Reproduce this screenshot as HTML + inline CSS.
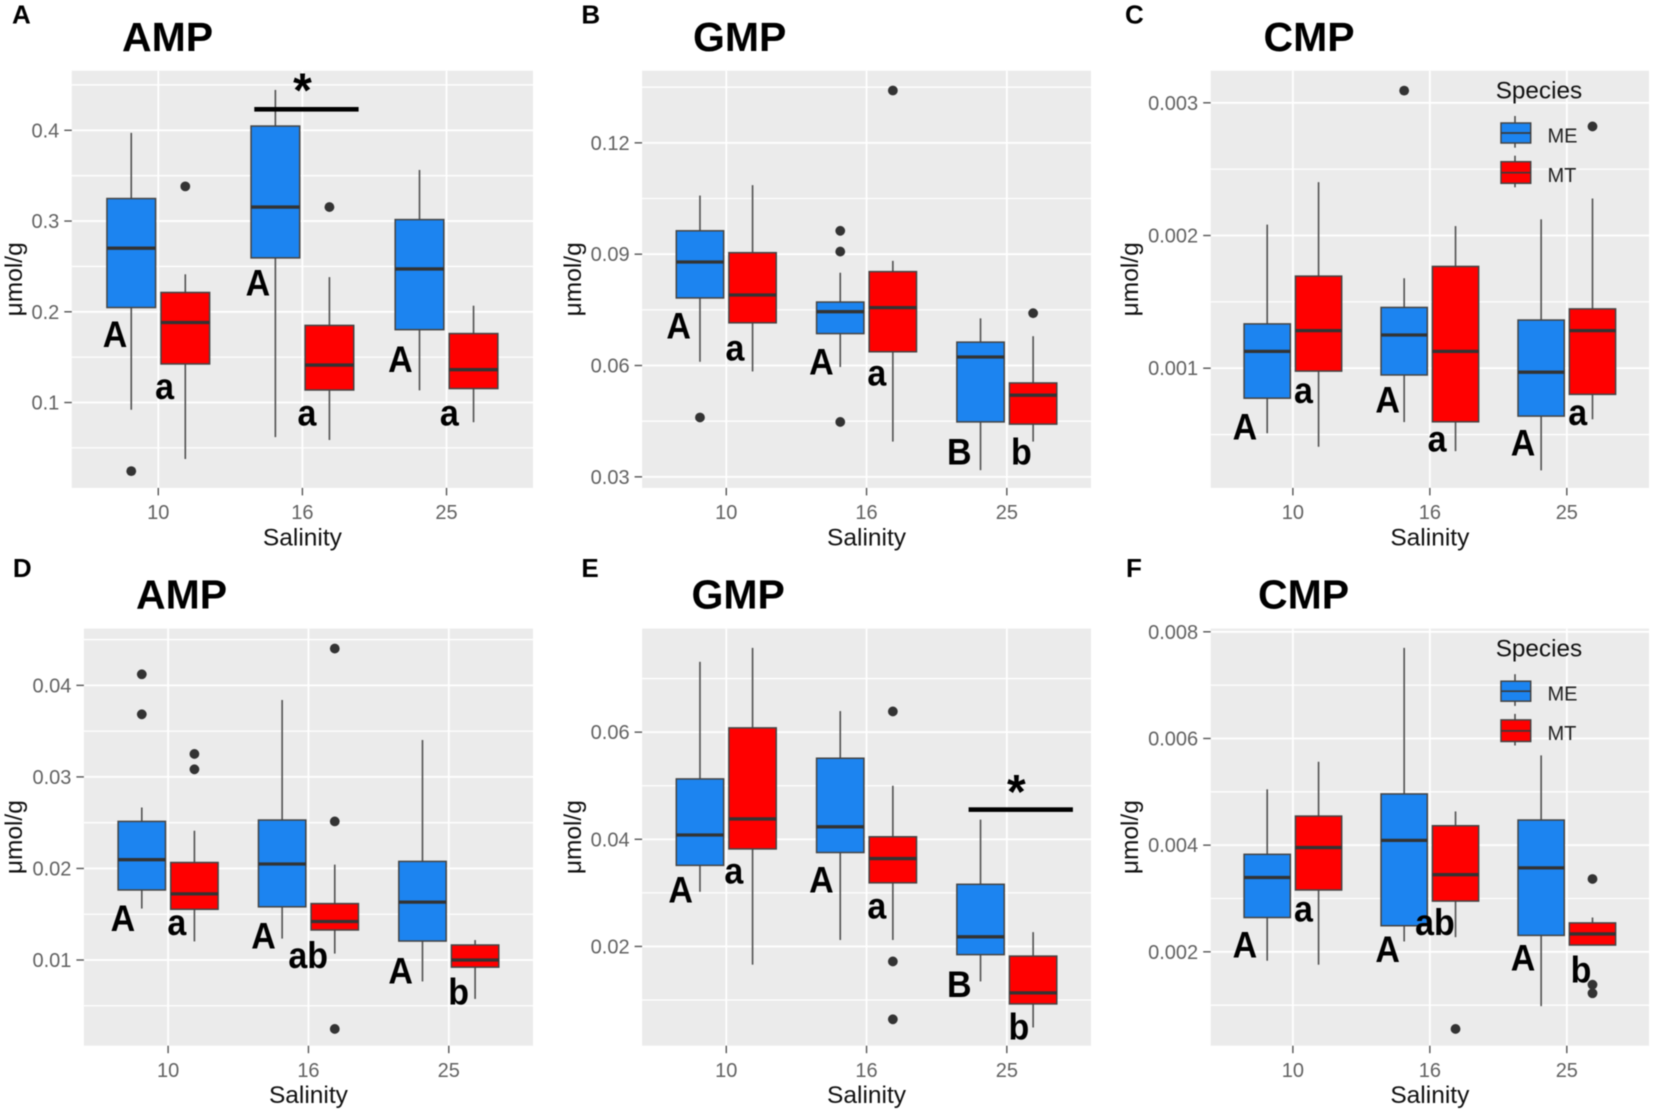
<!DOCTYPE html>
<html lang="en">
<head>
<meta charset="utf-8">
<title>Nucleotide monophosphates by salinity and species</title>
<style>
  html, body { margin: 0; padding: 0; background: #fff; }
  svg { display: block; filter: blur(0.5px); font-family: "Liberation Sans", Arial, sans-serif; }
  .panel-letter { font-size: 26px; font-weight: bold; fill: #000; }
  .title { font-size: 41px; font-weight: bold; fill: #000; }
  .sig { font-size: 34px; font-weight: bold; fill: #000; text-anchor: middle; transform-box: fill-box; transform-origin: 50% 81%; transform: scaleY(1.1); }
  .star { font-size: 48px; font-weight: bold; fill: #000; text-anchor: middle; }
  .ytick { font-size: 20px; fill: #626262; text-anchor: end; }
  .xtick { font-size: 20px; fill: #626262; text-anchor: middle; }
  .axis-title { font-size: 24.5px; fill: #111; text-anchor: middle; }
  .legend-title { font-size: 24.3px; fill: #111; }
  .legend-label { font-size: 20px; fill: #222; }
</style>
</head>
<body>
<svg xmlns="http://www.w3.org/2000/svg" width="1654" height="1115" viewBox="0 0 1654 1115">

  <text class="panel-letter" x="12" y="23.6">A</text>
  <text class="panel-letter" x="581.4" y="23.6">B</text>
  <text class="panel-letter" x="1125" y="23.6">C</text>
  <text class="panel-letter" x="12.9" y="577">D</text>
  <text class="panel-letter" x="581.4" y="577">E</text>
  <text class="panel-letter" x="1126" y="577">F</text>

  <text class="title" x="122" y="51">AMP</text>
  <text class="title" x="693" y="51">GMP</text>
  <text class="title" x="1263.5" y="51">CMP</text>
  <text class="title" x="136" y="608.6">AMP</text>
  <text class="title" x="691.5" y="608.6">GMP</text>
  <text class="title" x="1258" y="608.6">CMP</text>

  <g id="marks-a"></g>
  <g id="marks-b"></g>
  <g id="marks-c"></g>
  <g id="marks-d"></g>
  <g id="marks-e"></g>
  <g id="marks-f"></g>

  <g>
    <text class="sig" x="115" y="347">A</text>
    <text class="sig" x="164.6" y="399">a</text>
    <text class="sig" x="257.9" y="295.7">A</text>
    <text class="sig" x="307" y="425.7">a</text>
    <text class="sig" x="400.4" y="372">A</text>
    <text class="sig" x="449.3" y="425.7">a</text>
    <rect x="254.3" y="107" width="104.3" height="4.6" fill="#000"></rect>
    <text class="star" x="302.5" y="106.4">*</text>
  </g>
  <g>
    <text class="sig" x="678.6" y="338.6">A</text>
    <text class="sig" x="735" y="360.7">a</text>
    <text class="sig" x="821.4" y="374.3">A</text>
    <text class="sig" x="876.8" y="385.7">a</text>
    <text class="sig" x="959.3" y="464.3">B</text>
    <text class="sig" x="1021.4" y="464.3">b</text>
  </g>
  <g>
    <text class="sig" x="1244.9" y="439.3">A</text>
    <text class="sig" x="1303.5" y="402.9">a</text>
    <text class="sig" x="1387.6" y="412.5">A</text>
    <text class="sig" x="1437.1" y="451.4">a</text>
    <text class="sig" x="1523" y="455.4">A</text>
    <text class="sig" x="1577.7" y="425">a</text>
  </g>
  <g>
    <text class="sig" x="122.9" y="931">A</text>
    <text class="sig" x="176.8" y="935">a</text>
    <text class="sig" x="263.6" y="948.6">A</text>
    <text class="sig" x="308.2" y="967.9">ab</text>
    <text class="sig" x="400.7" y="983.6">A</text>
    <text class="sig" x="458.6" y="1004.3">b</text>
  </g>
  <g>
    <text class="sig" x="680.7" y="902.5">A</text>
    <text class="sig" x="733.9" y="883.6">a</text>
    <text class="sig" x="821.4" y="892.5">A</text>
    <text class="sig" x="876.8" y="918.6">a</text>
    <text class="sig" x="959.3" y="997">B</text>
    <text class="sig" x="1018.9" y="1039.6">b</text>
    <rect x="968.6" y="807.3" width="104.3" height="4.6" fill="#000"></rect>
    <text class="star" x="1016.4" y="808">*</text>
  </g>
  <g>
    <text class="sig" x="1244.9" y="957.5">A</text>
    <text class="sig" x="1303.5" y="921.4">a</text>
    <text class="sig" x="1387.6" y="962">A</text>
    <text class="sig" x="1435" y="935">ab</text>
    <text class="sig" x="1523" y="970.4">A</text>
    <text class="sig" x="1581" y="982.5">b</text>
  </g>

  <g>
    <text class="legend-title" x="1495.7" y="98.3">Species</text>
    <g>
      <line x1="1515" x2="1515" y1="116" y2="147.7" stroke="#444" stroke-width="1.5"></line>
      <rect x="1501" y="123" width="29.7" height="20" fill="#1C84F0" stroke="#444" stroke-width="1.5"></rect>
      <line x1="1501" x2="1530.7" y1="133" y2="133" stroke="#3a3a3a" stroke-width="1.7"></line>
      <text class="legend-label" x="1547.5" y="142.3">ME</text>
    </g>
    <g>
      <line x1="1515" x2="1515" y1="155.7" y2="187.3" stroke="#444" stroke-width="1.5"></line>
      <rect x="1501" y="161.7" width="29.7" height="21.6" fill="#FF0000" stroke="#444" stroke-width="1.5"></rect>
      <line x1="1501" x2="1530.7" y1="172.7" y2="172.7" stroke="#3a3a3a" stroke-width="1.7"></line>
      <text class="legend-label" x="1547.5" y="182">MT</text>
    </g>
  </g>
  <g transform="translate(0,558.2)">
    <text class="legend-title" x="1495.7" y="98.3">Species</text>
    <g>
      <line x1="1515" x2="1515" y1="116" y2="147.7" stroke="#444" stroke-width="1.5"></line>
      <rect x="1501" y="123" width="29.7" height="20" fill="#1C84F0" stroke="#444" stroke-width="1.5"></rect>
      <line x1="1501" x2="1530.7" y1="133" y2="133" stroke="#3a3a3a" stroke-width="1.7"></line>
      <text class="legend-label" x="1547.5" y="142.3">ME</text>
    </g>
    <g>
      <line x1="1515" x2="1515" y1="155.7" y2="187.3" stroke="#444" stroke-width="1.5"></line>
      <rect x="1501" y="161.7" width="29.7" height="21.6" fill="#FF0000" stroke="#444" stroke-width="1.5"></rect>
      <line x1="1501" x2="1530.7" y1="172.7" y2="172.7" stroke="#3a3a3a" stroke-width="1.7"></line>
      <text class="legend-label" x="1547.5" y="182">MT</text>
    </g>
  </g>
</svg>

<script>
// Shared categories and series
const categories = ['10', '16', '25'];
const species = ['ME', 'MT'];

// Each box is [lowWhisker, q1, median, q3, highWhisker], in umol/g, one per salinity.
const ticksA = ['0.1', '0.2', '0.3', '0.4'];
const boxesA_ME = [[0.0921, 0.2047, 0.2701, 0.3248, 0.3972], [0.0618, 0.2594, 0.3154, 0.4047, 0.4445], [0.1134, 0.1803, 0.2472, 0.3016, 0.3563]];
const boxesA_MT = [[0.0378, 0.1425, 0.1882, 0.2213, 0.2413], [0.0587, 0.1138, 0.1413, 0.1850, 0.2382], [0.0783, 0.1154, 0.1362, 0.1760, 0.2067]];
const outliersA_ME = [[0.0244], [], []];
const outliersA_MT = [[0.3382], [0.3154], []];

const ticksB = ['0.03', '0.06', '0.09', '0.12'];
const boxesB_ME = [[0.0610, 0.0782, 0.0879, 0.0963, 0.1058], [0.0596, 0.0686, 0.0745, 0.0771, 0.0850], [0.0318, 0.0448, 0.0623, 0.0663, 0.0727]];
const boxesB_MT = [[0.0584, 0.0715, 0.0790, 0.0904, 0.1086], [0.0395, 0.0637, 0.0756, 0.0853, 0.0882], [0.0395, 0.0442, 0.0520, 0.0553, 0.0679]];
const outliersB_ME = [[0.0460], [0.0963, 0.0907, 0.0448], []];
const outliersB_MT = [[], [0.1341], [0.0741]];

const ticksC = ['0.001', '0.002', '0.003'];
const boxesC_ME = [[0.00051, 0.000774, 0.001127, 0.001334, 0.002082], [0.000594, 0.000949, 0.00125, 0.001458, 0.001678], [0.00023, 0.000639, 0.00097, 0.001363, 0.002122]];
const boxesC_MT = [[0.000408, 0.000978, 0.001283, 0.001694, 0.002402], [0.000375, 0.000596, 0.001127, 0.001767, 0.002071], [0.000615, 0.000803, 0.001283, 0.001447, 0.002279]];
const outliersC_ME = [[], [0.003092], []];
const outliersC_MT = [[], [], [0.002822]];

const ticksD = ['0.01', '0.02', '0.03', '0.04'];
const boxesD_ME = [[0.01562, 0.01765, 0.02096, 0.02514, 0.02666], [0.01234, 0.01581, 0.02049, 0.02529, 0.0384], [0.00766, 0.01207, 0.01632, 0.02077, 0.03403]];
const boxesD_MT = [[0.01203, 0.01554, 0.01722, 0.02065, 0.02412], [0.0107, 0.01328, 0.01421, 0.01616, 0.02042], [0.00575, 0.00922, 0.0100, 0.01164, 0.01218]];
const outliersD_ME = [[0.04121, 0.03684], [], []];
const outliersD_MT = [[0.03251, 0.03083], [0.04402, 0.02514, 0.00247], []];

const ticksE = ['0.02', '0.04', '0.06'];
const boxesE_ME = [[0.0302, 0.03513, 0.0408, 0.05127, 0.07313], [0.0212, 0.03753, 0.04233, 0.05513, 0.06393], [0.01347, 0.01847, 0.0218, 0.0316, 0.04367]];
const boxesE_MT = [[0.0166, 0.0382, 0.0438, 0.0608, 0.07573], [0.0212, 0.03187, 0.0364, 0.04047, 0.05], [0.00487, 0.00927, 0.01133, 0.0182, 0.02267]];
const outliersE_ME = [[], [], []];
const outliersE_MT = [[], [0.06387, 0.0172, 0.0064], []];

const ticksF = ['0.002', '0.004', '0.006', '0.008'];
const boxesF_ME = [[0.001833, 0.002643, 0.003393, 0.003828, 0.005047], [0.002194, 0.002489, 0.004089, 0.00496, 0.007699], [0.000982, 0.002308, 0.003574, 0.004471, 0.005683]];
const boxesF_MT = [[0.001759, 0.003159, 0.003955, 0.004545, 0.005563], [0.002275, 0.002951, 0.003446, 0.004364, 0.004632], [0.002127, 0.002127, 0.002335, 0.002542, 0.002643]];
const outliersF_ME = [[], [], []];
const outliersF_MT = [[], [0.000554], [0.003366, 0.001384, 0.001223]];

const SVG_NS = 'http://www.w3.org/2000/svg';
const FILLS = { ME: '#1C84F0', MT: '#FF0000' };

function make(parent, tag, attrs, text) {
  const el = document.createElementNS(SVG_NS, tag);
  for (const k in attrs) el.setAttribute(k, attrs[k]);
  if (text !== undefined) el.textContent = text;
  parent.appendChild(el);
  return el;
}

function drawPanel(cfg) {
  const root = document.getElementById('marks-' + cfg.id);
  const id = cfg.id;
  const L = cfg.left, R = cfg.right, T = cfg.top, B = cfg.bottom;

  // axis functions
  const yScale = v => B - (v - cfg.yMin) / (cfg.yMax - cfg.yMin) * (B - T);
  const band = (R - L) / (categories.length - 1 + 1.2);
  const xScale = i => L + (0.6 + i) * band;
  const dodge = s => (s === 0 ? -0.1875 : 0.1875) * band;
  const boxW = 0.3375 * band;

  const bg = make(root, 'rect', { x: L, y: T, width: R - L, height: B - T, fill: '#EBEBEB' });
  
  

  // gridlines
  const tickVals = cfg.ticks.map(parseFloat);
  const step = tickVals[1] - tickVals[0];
  for (let k = -1; k <= tickVals.length; k++) {
    const v = tickVals[0] + (k + 0.5) * step;
    if (v <= cfg.yMin || v >= cfg.yMax) continue;
    const g = make(root, 'line', { x1: L, x2: R, y1: yScale(v), y2: yScale(v), stroke: '#fff', 'stroke-width': 1.3 });
    
    
  }
  tickVals.forEach((v, i) => {
    const y = yScale(v);
    const g = make(root, 'line', { x1: L, x2: R, y1: y, y2: y, stroke: '#fff', 'stroke-width': 1.8 });
    
    
    const t = make(root, 'line', { x1: L - 7.5, x2: L, y1: y, y2: y, stroke: '#555', 'stroke-width': 1.4 });
    
    
    const lab = make(root, 'text', { class: 'ytick', x: L - 12.5, y: y + 7 }, cfg.ticks[i]);
    
    
  });
  categories.forEach((c, i) => {
    const x = xScale(i);
    const g = make(root, 'line', { x1: x, x2: x, y1: T, y2: B, stroke: '#fff', 'stroke-width': 1.8 });
    
    
    const t = make(root, 'line', { x1: x, x2: x, y1: B, y2: B + 7.5, stroke: '#555', 'stroke-width': 1.4 });
    
    
    const lab = make(root, 'text', { class: 'xtick', x: x, y: B + 31.2 }, c);
    
    
  });

  // boxes
  species.forEach((sp, s) => {
    const boxes = s === 0 ? cfg.me : cfg.mt;
    const outs = s === 0 ? cfg.meOut : cfg.mtOut;
    boxes.forEach((b, i) => {
      const cx = xScale(i) + dodge(s);
      const tag = id + '-' + categories[i] + '-' + sp.toLowerCase();
      const group = make(root, 'g', {});
      
      

      const wLow = make(group, 'line', { x1: cx, x2: cx, y1: yScale(b[1]), y2: yScale(b[0]), stroke: '#505050', 'stroke-width': 1.6 });
      
      

      const wHigh = make(group, 'line', { x1: cx, x2: cx, y1: yScale(b[3]), y2: yScale(b[4]), stroke: '#505050', 'stroke-width': 1.6 });
      
      

      const rect = make(group, 'rect', { x: cx - boxW / 2, y: yScale(b[3]), width: boxW, height: yScale(b[1]) - yScale(b[3]), fill: FILLS[sp], stroke: '#444', 'stroke-width': 1.5 });
      
      

      const med = make(group, 'line', { x1: cx - boxW / 2, x2: cx + boxW / 2, y1: yScale(b[2]), y2: yScale(b[2]), stroke: '#333', 'stroke-width': 3.3 });
      
      

      outs[i].forEach(v => {
        const pt = make(group, 'circle', { cx: cx, cy: yScale(v), r: 4.9, fill: '#333' });
        
        
      });
    });
  });

  // axis titles
  const xt = make(root, 'text', { class: 'axis-title', x: (L + R) / 2, y: B + 57.5 }, 'Salinity');
  
  
  const yMid = (T + B) / 2;
  const yt = make(root, 'text', { class: 'axis-title', x: cfg.yTitleX, y: yMid, transform: 'rotate(-90 ' + cfg.yTitleX + ' ' + yMid + ')' }, 'μmol/g');
  
  
}

drawPanel({ id: 'a', left: 71.8, right: 533, top: 70.7, bottom: 487.9, yMin: 0.00591, yMax: 0.4657, yTitleX: 22, ticks: ticksA, me: boxesA_ME, mt: boxesA_MT, meOut: outliersA_ME, mtOut: outliersA_MT });
drawPanel({ id: 'b', left: 642.1, right: 1091, top: 70.7, bottom: 487.9, yMin: 0.02702, yMax: 0.13944, yTitleX: 581, ticks: ticksB, me: boxesB_ME, mt: boxesB_MT, meOut: outliersB_ME, mtOut: outliersB_MT });
drawPanel({ id: 'c', left: 1210.7, right: 1649, top: 70.7, bottom: 487.9, yMin: 0.000098, yMax: 0.003242, yTitleX: 1138.2, ticks: ticksC, me: boxesC_ME, mt: boxesC_MT, meOut: outliersC_ME, mtOut: outliersC_MT });
drawPanel({ id: 'd', left: 83.9, right: 533, top: 628.6, bottom: 1045.7, yMin: 0.00064, yMax: 0.0462, yTitleX: 22, ticks: ticksD, me: boxesD_ME, mt: boxesD_MT, meOut: outliersD_ME, mtOut: outliersD_MT });
drawPanel({ id: 'e', left: 642.1, right: 1091, top: 628.6, bottom: 1045.7, yMin: 0.00147, yMax: 0.07933, yTitleX: 581, ticks: ticksE, me: boxesE_ME, mt: boxesE_MT, meOut: outliersE_ME, mtOut: outliersE_MT });
drawPanel({ id: 'f', left: 1210.7, right: 1649, top: 628.6, bottom: 1045.7, yMin: 0.00024, yMax: 0.00806, yTitleX: 1138.2, ticks: ticksF, me: boxesF_ME, mt: boxesF_MT, meOut: outliersF_ME, mtOut: outliersF_MT });
</script>
</body>
</html>
